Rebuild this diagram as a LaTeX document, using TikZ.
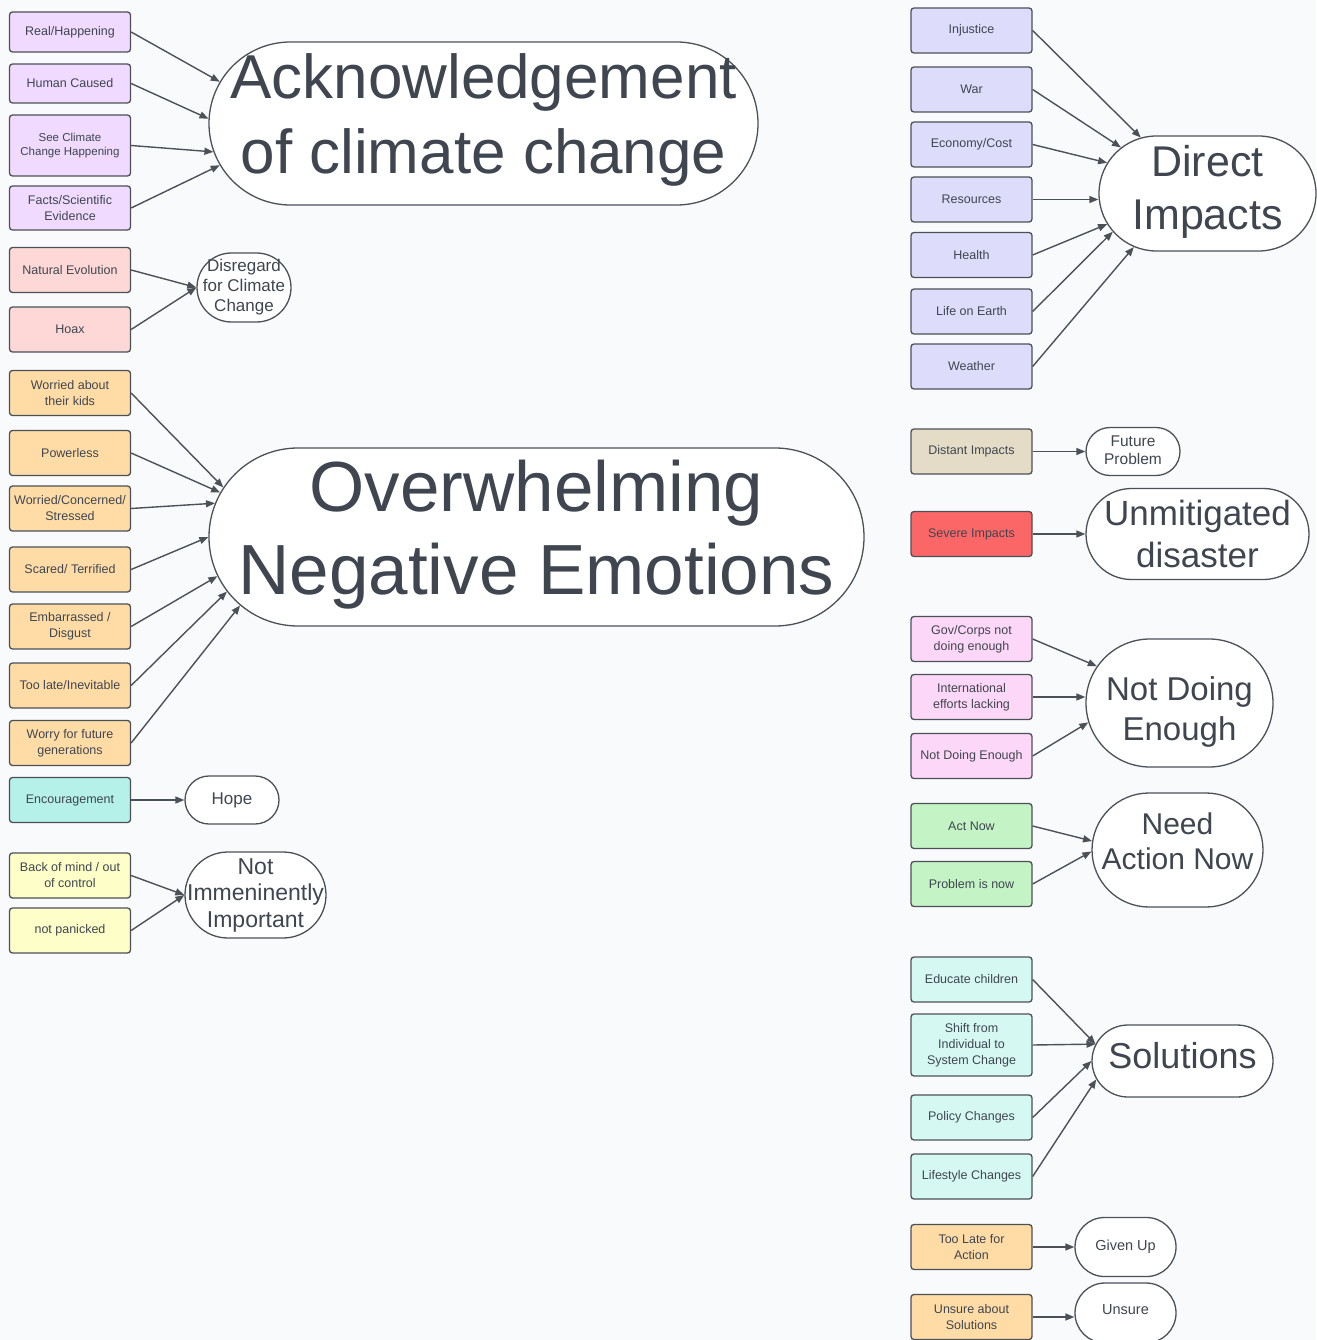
\documentclass[tikz,border=0pt]{standalone}
\usepackage{fontspec}
\setmainfont{Liberation Sans}
\usetikzlibrary{shapes.misc,arrows.meta}
\definecolor{bgcol}{HTML}{F9FAFC}
\definecolor{linecol}{HTML}{4C5158}
\definecolor{txtcol}{HTML}{3F4650}
\definecolor{ackfill}{HTML}{F0DAFF}
\definecolor{disfill}{HTML}{FDD8D6}
\definecolor{emofill}{HTML}{FFDCA6}
\definecolor{hopefill}{HTML}{B5F1E9}
\definecolor{calmfill}{HTML}{FEFEC8}
\definecolor{impfill}{HTML}{DDDDFB}
\definecolor{distfill}{HTML}{E4DCC6}
\definecolor{sevfill}{HTML}{FB6666}
\definecolor{actfill}{HTML}{FDD7F8}
\definecolor{nowfill}{HTML}{C4F3C5}
\definecolor{solfill}{HTML}{D6F8F3}
\tikzset{
  box/.style={draw=linecol, line width=1.3pt, rounded corners=3pt, minimum width=121pt,
    minimum height=45pt, align=center, text=txtcol, inner sep=1pt,
    font=\fontsize{12.5}{16}\selectfont},
  oval/.style={draw=linecol, line width=1.3pt, fill=white, rounded rectangle, inner sep=0pt},
  lbl/.style={align=center, text=txtcol, inner sep=0pt},
  arr/.style={draw=linecol, line width=1.4pt, -{Triangle[length=9pt,width=7pt]}}
}
\begin{document}
\begin{tikzpicture}[x=1pt,y=-1pt]
  \fill[bgcol] (0,0) rectangle (1316,1340);
  \useasboundingbox (0,0) rectangle (1316,1340);
  %left boxes
  \node[box, fill=ackfill, minimum height=40pt] (real) at (70,32) {Real/Happening};
  \node[box, fill=ackfill, minimum height=39pt] (human) at (70,83.5) {Human Caused};
  \node[box, fill=ackfill, minimum height=61pt, font=\fontsize{11.5}{14}\selectfont] (seecc) at (70,145.5) {See Climate\\Change Happening};
  \node[box, fill=ackfill, minimum height=44pt] (facts) at (70,208) {Facts/Scientific\\Evidence};
  \node[box, fill=disfill] (natevo) at (70,270) {Natural Evolution};
  \node[box, fill=disfill] (hoax) at (70,329.5) {Hoax};
  \node[box, fill=emofill] (kids) at (70,393) {Worried about\\their kids};
  \node[box, fill=emofill] (powerless) at (70,453) {Powerless};
  \node[box, fill=emofill] (worried) at (70,508.5) {Worried/Concerned/\\Stressed};
  \node[box, fill=emofill] (scared) at (70,569.5) {Scared/ Terrified};
  \node[box, fill=emofill] (embar) at (70,626.5) {Embarrassed /\\Disgust};
  \node[box, fill=emofill] (toolate) at (70,685.5) {Too late/Inevitable};
  \node[box, fill=emofill] (futgen) at (70,743) {Worry for future\\generations};
  \node[box, fill=hopefill] (encour) at (70,800) {Encouragement};
  \node[box, fill=calmfill] (backmind) at (70,875.5) {Back of mind / out\\of control};
  \node[box, fill=calmfill] (notpan) at (70,930.5) {not panicked};
  %right boxes
  \node[box, fill=impfill] (injust) at (971.5,30.5) {Injustice};
  \node[box, fill=impfill] (war) at (971.5,89.5) {War};
  \node[box, fill=impfill] (econ) at (971.5,144.5) {Economy/Cost};
  \node[box, fill=impfill] (resour) at (971.5,199.5) {Resources};
  \node[box, fill=impfill] (health) at (971.5,255) {Health};
  \node[box, fill=impfill] (lifeearth) at (971.5,311.5) {Life on Earth};
  \node[box, fill=impfill] (weather) at (971.5,366.5) {Weather};
  \node[box, fill=distfill] (distant) at (971.5,451.5) {Distant Impacts};
  \node[box, fill=sevfill] (severe) at (971.5,534) {Severe Impacts};
  \node[box, fill=actfill] (govcorp) at (971.5,639) {Gov/Corps not\\doing enough};
  \node[box, fill=actfill] (intl) at (971.5,697) {International\\efforts lacking};
  \node[box, fill=actfill] (notdobox) at (971.5,756) {Not Doing Enough};
  \node[box, fill=nowfill] (actnow) at (971.5,826) {Act Now};
  \node[box, fill=nowfill] (probnow) at (971.5,884) {Problem is now};
  \node[box, fill=solfill] (educ) at (971.5,979.5) {Educate children};
  \node[box, fill=solfill, minimum height=62pt] (shift) at (971.5,1045) {Shift from\\Individual to\\System Change};
  \node[box, fill=solfill] (policy) at (971.5,1117.5) {Policy Changes};
  \node[box, fill=solfill] (lifestyle) at (971.5,1176.5) {Lifestyle Changes};
  \node[box, fill=emofill] (toolateact) at (971.5,1247) {Too Late for\\Action};
  \node[box, fill=emofill] (unsureabout) at (971.5,1317) {Unsure about\\Solutions};
  %ovals
  \node[oval, minimum width=549pt, minimum height=163pt] (ack) at (483.5,123.5) {};
  \node[lbl, font=\fontsize{62}{75}\selectfont] (ackT) at ([yshift=4pt]ack.center) {Acknowledgement\\of climate change};
  \node[oval, minimum width=94pt, minimum height=69pt] (disreg) at (244,287.5) {};
  \node[lbl, font=\fontsize{17}{20}\selectfont] (disregT) at (disreg) {Disregard\\for Climate\\Change};
  \node[oval, minimum width=655pt, minimum height=178pt] (ovw) at (536.5,537) {};
  \node[lbl, font=\fontsize{71}{83}\selectfont] (ovwT) at ([yshift=2pt]ovw.center) {Overwhelming\\Negative Emotions};
  \node[oval, minimum width=94pt, minimum height=48pt] (hope) at (232,800) {};
  \node[lbl, font=\fontsize{17}{20}\selectfont] (hopeT) at (hope) {Hope};
  \node[oval, minimum width=141pt, minimum height=86pt] (notimm) at (255.5,895) {};
  \node[lbl, font=\fontsize{23}{26.5}\selectfont] (notimmT) at (notimm) {Not\\Immeninently\\Important};
  \node[oval, minimum width=217pt, minimum height=115pt] (direct) at (1207.5,193.5) {};
  \node[lbl, font=\fontsize{43}{53}\selectfont] (directT) at ([yshift=2pt]direct.center) {Direct\\Impacts};
  \node[oval, minimum width=94pt, minimum height=48pt] (futprob) at (1133,451.5) {};
  \node[lbl, font=\fontsize{15.5}{18}\selectfont] (futprobT) at ([yshift=1.5pt]futprob.center) {Future\\Problem};
  \node[oval, minimum width=223pt, minimum height=91pt] (unmit) at (1197.5,534) {};
  \node[lbl, font=\fontsize{35}{42}\selectfont] (unmitT) at (unmit) {Unmitigated\\disaster};
  \node[oval, minimum width=187pt, minimum height=128pt] (notdo) at (1179.5,703) {};
  \node[lbl, font=\fontsize{33}{40}\selectfont] (notdoT) at ([yshift=-9pt]notdo.center) {Not Doing\\Enough};
  \node[oval, minimum width=171pt, minimum height=114pt] (need) at (1177.5,850) {};
  \node[lbl, font=\fontsize{30}{35}\selectfont] (needT) at ([yshift=9pt]need.center) {Need\\Action Now};
  \node[oval, minimum width=181pt, minimum height=72pt] (solut) at (1182.5,1061) {};
  \node[lbl, font=\fontsize{36}{42}\selectfont] (solutT) at ([yshift=5pt]solut.center) {Solutions};
  \node[oval, minimum width=101pt, minimum height=59pt] (givenup) at (1125.5,1247) {};
  \node[lbl, font=\fontsize{14.5}{17}\selectfont] (givenupT) at (givenup) {Given Up};
  \node[oval, minimum width=101pt, minimum height=60pt] (unsure) at (1125.5,1313) {};
  \node[lbl, font=\fontsize{14.5}{17}\selectfont] (unsureT) at ([yshift=3pt]unsure.center) {Unsure};
  %arrows left
  \draw[arr] (real.east) -- (ack.171);
  \draw[arr] (human.east) -- (ack.179);
  \draw[arr] (seecc.east) -- (ack.186);
  \draw[arr] (facts.east) -- (ack.189);
  \draw[arr] (natevo.east) -- (disreg.west);
  \draw[arr] (hoax.east) -- (disreg.west);
  \draw[arr] (kids.east) -- (ovw.171);
  \draw[arr] (powerless.east) -- (ovw.172);
  \draw[arr] (worried.east) -- (ovw.174.5);
  \draw[arr] (scared.east) -- (ovw.180);
  \draw[arr] (embar.east) -- (ovw.187);
  \draw[arr] (toolate.east) -- (ovw.190.5);
  \draw[arr] (futgen.east) -- (ovw.193);
  \draw[arr] (encour.east) -- (hope.west);
  \draw[arr] (backmind.east) -- (notimm.west);
  \draw[arr] (notpan.east) -- (notimm.west);
  %arrows right
  \draw[arr] (injust.east) -- (direct.140.5);
  \draw[arr] (war.east) -- (direct.152);
  \draw[arr] (econ.east) -- (direct.163.5);
  \draw[arr] (resour.east) -- (resour.east -| direct.west);
  \draw[arr] (health.east) -- (direct.197.5);
  \draw[arr] (lifeearth.east) -- (direct.202.5);
  \draw[arr] (weather.east) -- (direct.216);
  \draw[arr] (distant.east) -- (futprob.west);
  \draw[arr] (severe.east) -- (unmit.west);
  \draw[arr] (govcorp.east) -- (notdo.156);
  \draw[arr] (intl.east) -- (intl.east -| notdo.west);
  \draw[arr] (notdobox.east) -- (notdo.192);
  \draw[arr] (actnow.east) -- (need.174);
  \draw[arr] (probnow.east) -- (need.181);
  \draw[arr] (educ.east) -- (solut.169);
  \draw[arr] (shift.east) -- (solut.169);
  \draw[arr] (policy.east) -- (solut.180);
  \draw[arr] (lifestyle.east) -- (solut.192.5);
  \draw[arr] (toolateact.east) -- (givenup.west);
  \draw[arr] (unsureabout.east) -- (unsureabout.east -| unsure.west);
\end{tikzpicture}
\end{document}
